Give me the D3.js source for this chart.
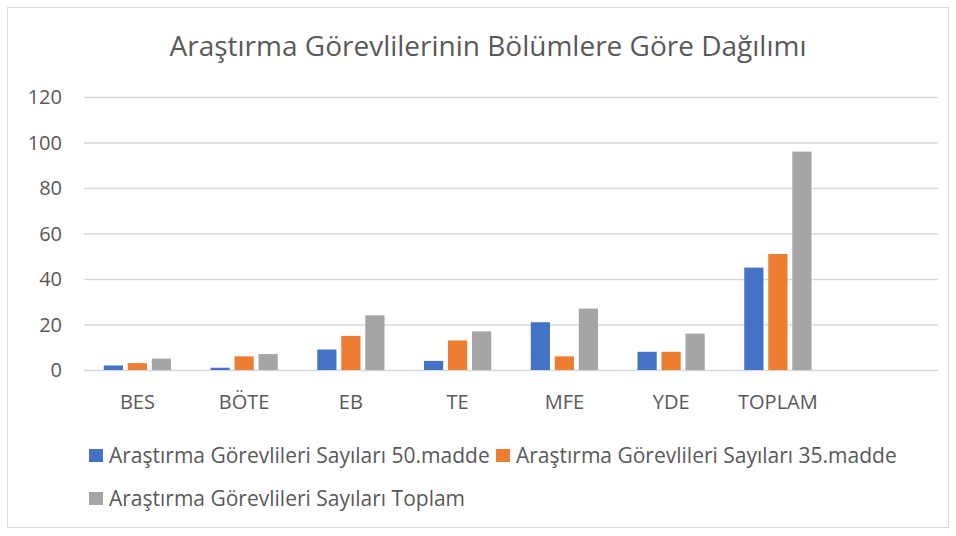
<!DOCTYPE html>
<html>
<head>
<meta charset="utf-8">
<script src="https://cdn.jsdelivr.net/npm/d3@7"></script>
<style>
  body { margin: 0; background: #fff; }
  text { font-family: "Open Sans", "Noto Sans", sans-serif; fill: #595959; }
</style>
</head>
<body>
<div id="chart"></div>
<script>
// chart data
let categories = ["BES", "BÖTE", "EB", "TE", "MFE", "YDE", "TOPLAM", ""];
let seriesNames = [
  "Araştırma Görevlileri Sayıları 50.madde",
  "Araştırma Görevlileri Sayıları 35.madde",
  "Araştırma Görevlileri Sayıları Toplam"
];
let madde50 = [2, 1, 9, 4, 21, 8, 45];
let madde35 = [3, 6, 15, 13, 6, 8, 51];
let toplam = [5, 7, 24, 17, 27, 16, 96];
let yTicks = [0, 20, 40, 60, 80, 100, 120];
let colors = ["#4472C4", "#ED7D31", "#A5A5A5"];

let svgWidth = 956;
let svgHeight = 536;

let margin = { top: 97, right: 18, bottom: 166, left: 84 };
let width = svgWidth - margin.left - margin.right;
let height = svgHeight - margin.top - margin.bottom;

let svg = d3.select("#chart")
  .append("svg")
  .attr("width", svgWidth)
  .attr("height", svgHeight);

// outer border
svg.append("rect")
  .attr("x", 7.5).attr("y", 7.5)
  .attr("width", 941).attr("height", 520)
  .attr("fill", "#fff")
  .attr("stroke", "#d9d9d9");

// title
svg.append("text")
  .attr("x", 488)
  .attr("y", 56)
  .attr("text-anchor", "middle")
  .attr("font-size", "28px")
  .text("Araştırma Görevlilerinin Bölümlere Göre Dağılımı");

let chartGroup = svg.append("g")
  .attr("transform", `translate(${margin.left}, ${margin.top})`);

let xScale = d3.scaleBand()
  .domain(categories)
  .range([0, width])
  .paddingInner(0.37)
  .paddingOuter(0.185);

let xInner = d3.scaleBand()
  .domain(d3.range(3))
  .range([0, xScale.bandwidth()])
  .paddingInner(0.2);

let yScale = d3.scaleLinear()
  .domain([0, 120])
  .range([height, 0]);

// gridlines
chartGroup.append("g")
  .selectAll("line")
  .data(yTicks)
  .enter().append("line")
  .attr("x1", 0)
  .attr("x2", width)
  .attr("y1", d => yScale(d) + 0.5)
  .attr("y2", d => yScale(d) + 0.5)
  .attr("stroke", "#d9d9d9")
  .attr("stroke-width", 1.5);

// y labels
chartGroup.append("g")
  .selectAll("text")
  .data(yTicks)
  .enter().append("text")
  .attr("x", -22)
  .attr("y", d => yScale(d) + 7)
  .attr("text-anchor", "end")
  .attr("font-size", "20px")
  .text(d => d);

// x labels
chartGroup.append("g")
  .selectAll("text")
  .data(categories)
  .enter().append("text")
  .attr("x", d => xScale(d) + xScale.bandwidth() / 2)
  .attr("y", height + 39)
  .attr("text-anchor", "middle")
  .attr("font-size", "20px")
  .text(d => d);

// bars
let series = [madde50, madde35, toplam];
series.forEach(function(values, si) {
  chartGroup.append("g")
    .selectAll("rect")
    .data(values)
    .enter().append("rect")
    .attr("x", (d, i) => xScale(categories[i]) + xInner(si))
    .attr("y", d => yScale(d))
    .attr("width", xInner.bandwidth())
    .attr("height", d => height - yScale(d))
    .attr("fill", colors[si]);
});

// legend
let legendPos = [[89, 455.5], [496, 455.5], [89, 498.5]];
let legend = svg.append("g");
seriesNames.forEach(function(name, i) {
  let g = legend.append("g")
    .attr("transform", `translate(${legendPos[i][0]}, ${legendPos[i][1]})`);
  g.append("rect")
    .attr("x", 0).attr("y", -6.5)
    .attr("width", 14).attr("height", 13)
    .attr("fill", colors[i]);
  g.append("text")
    .attr("x", 20)
    .attr("y", 7)
    .attr("font-size", "21px")
    .text(name);
});
</script>
</body>
</html>
